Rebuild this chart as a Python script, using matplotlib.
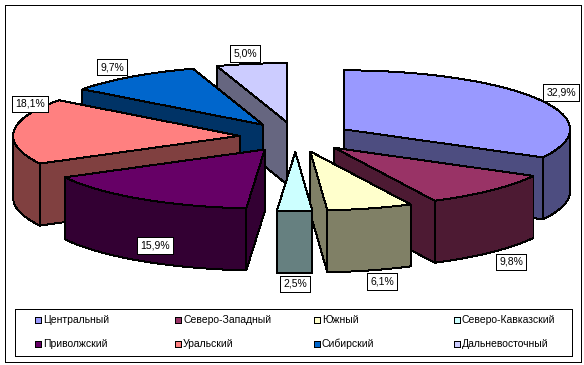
import numpy as np
import matplotlib
matplotlib.use("Agg")
import matplotlib.pyplot as plt
from matplotlib.patches import Polygon, Rectangle

regions = ["Центральный", "Северо-Западный", "Южный", "Северо-Кавказский",
           "Приволжский", "Уральский", "Сибирский", "Дальневосточный"]
shares = [32.9, 9.8, 6.1, 2.5, 15.9, 18.1, 9.7, 5.0]
top_colors = ["#9999FF", "#993366", "#FFFFCC", "#CCFFFF",
              "#660066", "#FF8080", "#0066CC", "#CCCCFF"]
side_colors = ["#4D4D80", "#4D1A33", "#808066", "#668080",
               "#330033", "#804040", "#003366", "#666680"]

# pie geometry in pixels
CX, CY = 295.5, 137
RX, RY = 226.5, 59
EX, EY = 56, 15
DEPTH = 62
LW = 0.7

# data label centres, same order as regions
label_x = [561, 511, 382, 295, 155, 30, 112, 245]
label_y = [92.5, 262, 281.5, 284, 245.5, 104, 67, 53.5]

# back slices first so the front ones cover them
draw_order = [7, 6, 5, 4, 0, 1, 2, 3]

plt.rcParams['font.family'] = ['Liberation Sans', 'DejaVu Sans']

fig = plt.figure(figsize=(5.84, 3.65), dpi=100)
ax = fig.add_axes([0, 0, 1, 1])
ax.set_xlim(0, 584)
ax.set_ylim(365, 0)
ax.axis('off')


def rim_point(ox, oy, deg):
    a = np.radians(deg)
    return ox + RX * np.sin(a), oy - RY * np.cos(a)


def poly(pts, color, z):
    ax.add_patch(Polygon(pts, closed=True, facecolor=color, edgecolor='black',
                         linewidth=LW, antialiased=False, zorder=z))


ends = np.cumsum(shares) * 3.6
starts = ends - np.array(shares) * 3.6

z = 2
for i in draw_order:
    a1, a2 = starts[i], ends[i]
    mid = np.radians((a1 + a2) / 2)
    ox = CX + EX * np.sin(mid)
    oy = CY - EY * np.cos(mid)

    # the two cut walls, the one further back goes first
    walls = []
    for deg in (a1, a2):
        px, py = rim_point(ox, oy, deg)
        walls.append([(ox, oy), (px, py), (px, py + DEPTH), (ox, oy + DEPTH)])
    walls.sort(key=lambda w: w[1][1])
    for w in walls:
        poly(w, side_colors[i], z)
        z += 1

    # outer rim, only the part facing us
    lo, hi = max(a1, 90), min(a2, 270)
    if lo < hi:
        degs = np.linspace(lo, hi, 60)
        upper = [rim_point(ox, oy, d) for d in degs]
        lower = [(x, y + DEPTH) for x, y in upper]
        poly(upper + lower[::-1], side_colors[i], z)
        z += 1

    degs = np.linspace(a1, a2, 120)
    poly([(ox, oy)] + [rim_point(ox, oy, d) for d in degs], top_colors[i], z)
    z += 1

for i, val in enumerate(shares):
    txt = "{:.1f}%".format(val).replace(".", ",")
    ax.text(label_x[i], label_y[i], txt, fontsize=7.5, ha='center', va='center', zorder=200,
            bbox=dict(boxstyle='square,pad=0.3', facecolor='white', edgecolor='black',
                      linewidth=LW, antialiased=False))

# outer frame and legend box
ax.add_patch(Rectangle((4.5, 4.5), 576, 357, fill=False, edgecolor='black',
                       linewidth=LW, antialiased=False, zorder=1))
ax.add_patch(Rectangle((14.5, 308.5), 557, 47, fill=False, edgecolor='black',
                       linewidth=LW, antialiased=False, zorder=1))

col_x = [34.5, 174.5, 313.5, 453.5]
row_y = [320, 344]
for i, name in enumerate(regions):
    x = col_x[i % 4]
    y = row_y[i // 4]
    ax.add_patch(Rectangle((x, y - 3), 6, 6, facecolor=top_colors[i], edgecolor='black',
                           linewidth=LW, antialiased=False, zorder=3))
    ax.text(x + 8.5, y, name, fontsize=7.5, ha='left', va='center', zorder=3)

fig.savefig("out.png", dpi=100)
